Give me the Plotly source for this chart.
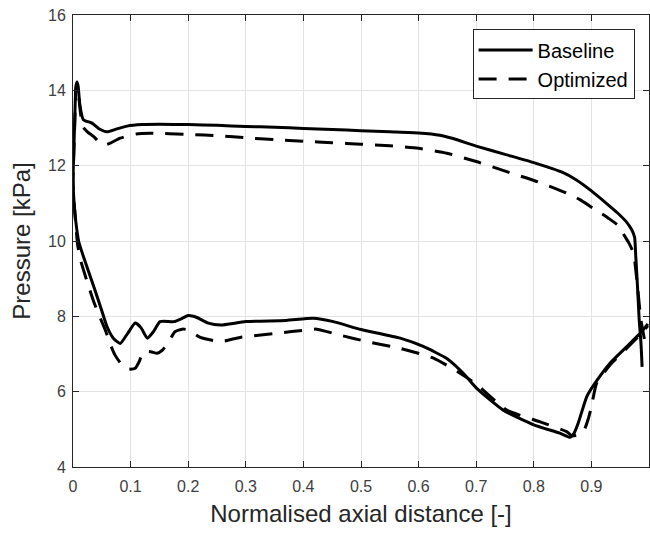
import plotly.graph_objects as go

# Baseline: pressure side (trailing edge -> leading edge) then suction side (leading edge -> trailing edge)
baseline_x = [0.988, 0.986, 0.983, 0.980, 0.977, 0.975, 0.970, 0.960, 0.945, 0.926, 0.900, 0.874, 0.850,
              0.800, 0.750, 0.700, 0.660, 0.637, 0.600, 0.550, 0.500, 0.450, 0.400, 0.350, 0.300, 0.250,
              0.200, 0.150, 0.120, 0.094, 0.075, 0.059, 0.045, 0.033, 0.018, 0.012, 0.009, 0.007, 0.005,
              0.003, 0.001, 0.000,
              0.002, 0.005, 0.010, 0.020, 0.036, 0.050, 0.059, 0.070, 0.082, 0.095, 0.108, 0.118, 0.129,
              0.140, 0.151, 0.175, 0.190, 0.200, 0.215, 0.235, 0.256, 0.300, 0.370, 0.417, 0.452, 0.500,
              0.568, 0.608, 0.649, 0.680, 0.700, 0.747, 0.800, 0.845, 0.863, 0.870, 0.877, 0.892, 0.906,
              0.932, 0.961, 0.987, 0.998]
baseline_p = [6.66, 7.30, 7.90, 8.80, 9.60, 10.10, 10.30, 10.52, 10.75, 11.00, 11.33, 11.62, 11.82,
              12.08, 12.30, 12.52, 12.72, 12.81, 12.87, 12.90, 12.93, 12.96, 12.99, 13.02, 13.04, 13.07,
              13.09, 13.10, 13.09, 13.05, 12.97, 12.90, 12.98, 13.13, 13.22, 13.60, 14.10, 14.22, 14.10,
              13.20, 12.20, 11.60,
              11.00, 10.50, 9.98, 9.50, 8.79, 8.15, 7.73, 7.42, 7.28, 7.55, 7.82, 7.70, 7.42,
              7.60, 7.86, 7.86, 7.95, 8.02, 7.97, 7.82, 7.77, 7.86, 7.89, 7.95, 7.86, 7.65,
              7.42, 7.20, 6.88, 6.45, 6.10, 5.51, 5.12, 4.90, 4.79, 4.90, 5.16, 5.87, 6.22,
              6.75, 7.19, 7.59, 7.80]

# Optimized
optimized_x = [0.992, 0.986, 0.980, 0.975, 0.972, 0.965, 0.955, 0.949, 0.930, 0.903, 0.880, 0.857, 0.805,
               0.753, 0.700, 0.649, 0.600, 0.550, 0.500, 0.450, 0.400, 0.350, 0.300, 0.256, 0.200, 0.134,
               0.110, 0.082, 0.065, 0.056, 0.047, 0.036, 0.025, 0.017, 0.013, 0.009, 0.007, 0.005, 0.003,
               0.001, 0.000,
               0.002, 0.005, 0.008, 0.013, 0.025, 0.036, 0.046, 0.056, 0.065, 0.073, 0.085, 0.097, 0.108,
               0.115, 0.122, 0.135, 0.146, 0.155, 0.163, 0.177, 0.190, 0.200, 0.221, 0.256, 0.290, 0.354,
               0.406, 0.423, 0.464, 0.510, 0.568, 0.626, 0.672, 0.700, 0.753, 0.811, 0.857, 0.866, 0.878,
               0.888, 0.895, 0.900, 0.909, 0.932, 0.961, 0.987, 0.998]
optimized_p = [7.40, 7.90, 8.80, 9.50, 9.72, 9.95, 10.20, 10.38, 10.60, 10.87, 11.10, 11.27, 11.58,
               11.84, 12.11, 12.33, 12.46, 12.53, 12.57, 12.61, 12.65, 12.69, 12.74, 12.79, 12.83, 12.86,
               12.84, 12.73, 12.60, 12.55, 12.60, 12.77, 12.90, 13.03, 13.40, 14.00, 14.15, 14.00, 13.10,
               12.10, 11.60,
               11.00, 10.40, 9.90, 9.50, 8.90, 8.39, 8.00, 7.64, 7.25, 6.97, 6.71, 6.60, 6.62,
               6.80, 7.06, 7.06, 7.02, 7.10, 7.24, 7.59, 7.66, 7.64, 7.44, 7.33, 7.44, 7.55,
               7.64, 7.66, 7.50, 7.33, 7.15, 6.89, 6.49, 6.20, 5.51, 5.20, 4.94, 4.83, 4.85,
               5.00, 5.30, 5.60, 6.22, 6.70, 7.15, 7.55, 7.75]

x_ticks = [0, 0.1, 0.2, 0.3, 0.4, 0.5, 0.6, 0.7, 0.8, 0.9, 1]
x_tick_labels = ["0", "0.1", "0.2", "0.3", "0.4", "0.5", "0.6", "0.7", "0.8", "0.9", "1"]
y_ticks = [4, 6, 8, 10, 12, 14, 16]
y_tick_labels = ["4", "6", "8", "10", "12", "14", "16"]

FONT = "Liberation Sans, Arial, sans-serif"
AX = "#262626"

fig = go.Figure()
fig.add_trace(go.Scatter(x=baseline_x, y=baseline_p, mode="lines", name="Baseline",
                         line=dict(color="black", width=3, shape="spline", smoothing=0.5)))
fig.add_trace(go.Scatter(x=optimized_x, y=optimized_p, mode="lines", name="Optimized",
                         line=dict(color="black", width=3, dash="18px,12px", shape="spline", smoothing=0.5)))

axis_common = dict(showline=True, linecolor=AX, linewidth=1, mirror="ticks",
                   ticks="inside", ticklen=6, tickcolor=AX, tickwidth=1,
                   showgrid=True, gridcolor="#e3e3e3", gridwidth=1, zeroline=False,
                   automargin=False,
                   tickfont=dict(family=FONT, size=16, color="#404040"))

fig.update_xaxes(range=[0, 1], tickvals=x_ticks, ticktext=x_tick_labels, ticklabelstandoff=5,
                 title=dict(text="Normalised axial distance [-]", font=dict(family=FONT, size=24, color="#262626"),
                            standoff=10),
                 **axis_common)
fig.update_yaxes(range=[4, 16], tickvals=y_ticks, ticktext=y_tick_labels, ticklabelstandoff=3,
                 title=dict(text="Pressure [kPa]", font=dict(family=FONT, size=24, color="#262626"),
                            standoff=10),
                 **axis_common)

fig.update_layout(
    width=650, height=536,
    margin=dict(l=73, r=1, t=15, b=69),
    paper_bgcolor="white", plot_bgcolor="white",
    showlegend=True,
    legend=dict(x=0.975, y=0.968, xanchor="right", yanchor="top",
                bgcolor="white", bordercolor=AX, borderwidth=1,
                font=dict(family=FONT, size=20, color="black"),
                itemwidth=54, tracegroupgap=0),
)

fig.write_html("out.html", config={"displayModeBar": False},
               post_script="document.body.style.margin='0px';document.body.style.overflow='hidden';")
